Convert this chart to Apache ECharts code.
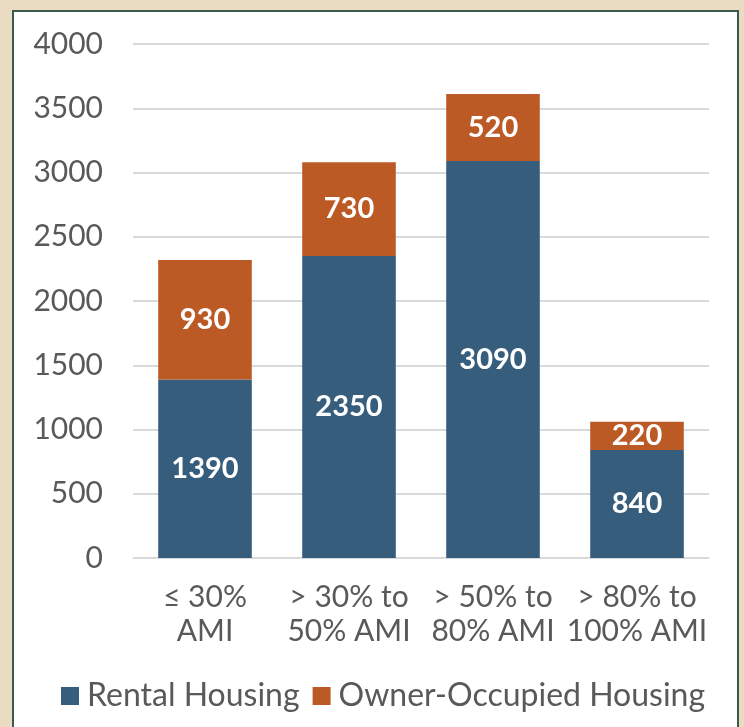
<!DOCTYPE html>
<html>
<head>
<meta charset="utf-8">
<script src="https://cdn.jsdelivr.net/npm/echarts@6/dist/echarts.min.js"></script>
<style>
  html, body { margin: 0; padding: 0; background: #eadcc2; }
  #panel {
    position: absolute; left: 12px; top: 10px;
    width: 727px; height: 740px; box-sizing: border-box;
    border: 2px solid #3d5a4e; background: #fff;
  }
  #chart { position: absolute; left: 0; top: 0; width: 744px; height: 727px; }
</style>
</head>
<body>
<div id="panel"></div>
<div id="chart"></div>
<script>
const categories = ['≤ 30%\nAMI', '> 30% to\n50% AMI', '> 50% to\n80% AMI', '> 80% to\n100% AMI'];
const rentalHousing = [1390, 2350, 3090, 840];
const ownerOccupied = [930, 730, 520, 220];
const seriesNames = ['Rental Housing', 'Owner-Occupied Housing'];

const chart = echarts.init(document.getElementById('chart'));
const font = 'Lato, "Open Sans", sans-serif';

const barLabel = {
    show: true,
    position: 'inside',
    color: '#fff',
    fontFamily: font,
    fontWeight: 'bold',
    fontSize: 29,
};

chart.setOption({
    animation: false,
    grid: { left: 133, right: 35, top: 44, bottom: 169, containLabel: false },
    legend: {
        left: 56,
        top: 675,
        itemWidth: 18,
        itemHeight: 18,
        itemGap: 13,
        icon: 'rect',
        textStyle: { fontFamily: font, fontSize: 32, color: '#595959', padding: [0, 0, 0, 3] },
    },
    xAxis: {
        type: 'category',
        data: categories,
        axisLine: { lineStyle: { color: '#d9d9d9' } },
        axisTick: { show: false },
        axisLabel: {
            fontFamily: font, fontSize: 30, color: '#595959',
            lineHeight: 34, margin: 22, interval: 0,
        },
    },
    yAxis: {
        type: 'value',
        min: 0,
        max: 4000,
        interval: 500,
        axisLine: { show: false },
        axisTick: { show: false },
        axisLabel: {
            fontFamily: font, fontSize: 30, color: '#595959', margin: 30,
            formatter: v => String(v),
        },
        splitLine: { lineStyle: { color: '#d9d9d9', width: 2 } },
    },
    series: [
        {
            name: seriesNames[0],
            type: 'bar',
            stack: 'total',
            data: rentalHousing,
            barWidth: '65%',
            itemStyle: { color: '#375d7d' },
            label: barLabel,
        },
        {
            name: seriesNames[1],
            type: 'bar',
            stack: 'total',
            data: ownerOccupied,
            barWidth: '65%',
            itemStyle: { color: '#bb5a24' },
            label: barLabel,
        },
    ],
});
</script>
</body>
</html>
